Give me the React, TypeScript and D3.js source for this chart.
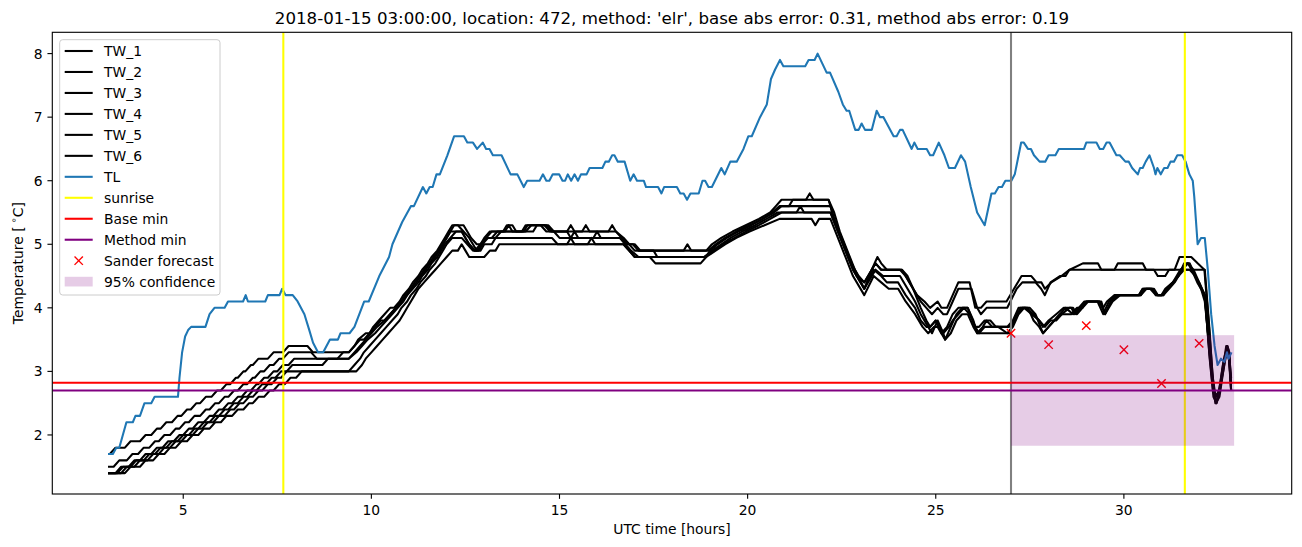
import React from 'react';
import * as d3 from 'd3';

const W = 1302;
const H = 547;
const PLOT = { left: 52.3, right: 1291.7, top: 32.3, bottom: 494 };

const X_DOMAIN = [1.52, 34.46];
const Y_DOMAIN = [1.071, 8.335];
const X_TICKS = [5, 10, 15, 20, 25, 30];
const Y_TICKS = [2, 3, 4, 5, 6, 7, 8];

const TITLE = "2018-01-15 03:00:00, location: 472, method: 'elr', base abs error: 0.31, method abs error: 0.19";
const X_LABEL = 'UTC time [hours]';

// Air temperature
const TL: [number, number][] = [
  [3.0,1.7],[3.13,1.7],[3.22,1.8],[3.3,1.8],[3.49,2.2],[3.66,2.2],[3.73,2.3],[3.85,2.3],[3.97,2.5],[4.15,2.5],[4.24,2.6],[4.86,2.6],[4.9,2.9],[4.97,3.3],[5.05,3.55],[5.13,3.65],[5.21,3.7],[5.59,3.7],[5.7,3.9],[5.83,4.0],[6.1,4.0],[6.19,4.1],[6.59,4.1],[6.66,4.2],[6.72,4.1],[7.18,4.1],[7.25,4.2],[7.56,4.2],[7.63,4.3],[7.72,4.2],[7.91,4.2],[8.04,4.1],[8.22,3.9],[8.35,3.65],[8.45,3.45],[8.58,3.3],[8.72,3.3],[8.9,3.5],[9.11,3.5],[9.18,3.6],[9.42,3.6],[9.55,3.7],[9.68,3.9],[9.81,4.1],[9.93,4.1],[10.21,4.5],[10.47,4.8],[10.56,5.0],[10.82,5.35],[11.05,5.6],[11.13,5.6],[11.37,5.9],[11.46,5.8],[11.55,5.9],[11.63,5.9],[11.73,6.1],[11.82,6.1],[12.02,6.4],[12.2,6.7],[12.46,6.7],[12.55,6.6],[12.7,6.6],[12.81,6.5],[12.96,6.6],[13.05,6.5],[13.14,6.5],[13.23,6.4],[13.46,6.4],[13.7,6.1],[13.88,6.1],[14.05,5.9],[14.14,6.0],[14.47,6.0],[14.56,6.1],[14.65,6.0],[14.73,6.0],[14.82,6.1],[14.99,6.1],[15.08,6.0],[15.15,6.0],[15.22,6.1],[15.31,6.0],[15.4,6.1],[15.49,6.0],[15.57,6.1],[15.72,6.1],[15.8,6.2],[16.14,6.2],[16.22,6.3],[16.31,6.3],[16.4,6.4],[16.46,6.4],[16.55,6.3],[16.73,6.3],[16.88,6.0],[16.97,6.1],[17.06,6.0],[17.24,6.0],[17.3,5.9],[17.62,5.9],[17.71,5.8],[17.78,5.9],[18.12,5.9],[18.21,5.8],[18.3,5.8],[18.39,5.7],[18.48,5.8],[18.7,5.8],[18.8,6.0],[18.87,6.0],[18.96,5.9],[19.05,5.9],[19.3,6.2],[19.39,6.1],[19.54,6.3],[19.71,6.3],[19.89,6.5],[20.02,6.7],[20.11,6.7],[20.33,7.0],[20.51,7.2],[20.62,7.6],[20.73,7.75],[20.86,7.9],[20.95,7.8],[21.53,7.8],[21.62,7.9],[21.78,7.9],[21.86,8.0],[22.1,7.7],[22.19,7.7],[22.41,7.4],[22.53,7.2],[22.63,7.1],[22.7,7.1],[22.86,6.8],[22.95,6.8],[23.03,6.9],[23.12,6.8],[23.3,6.8],[23.43,7.1],[23.52,7.0],[23.61,7.0],[23.88,6.7],[23.96,6.7],[24.05,6.8],[24.12,6.8],[24.36,6.5],[24.43,6.6],[24.52,6.5],[24.76,6.5],[24.85,6.4],[24.93,6.4],[25.08,6.6],[25.23,6.4],[25.35,6.2],[25.51,6.2],[25.67,6.4],[25.78,6.3],[25.93,5.9],[26.1,5.5],[26.3,5.3],[26.48,5.8],[26.57,5.8],[26.67,5.9],[26.76,5.9],[26.85,6.0],[27.01,6.0],[27.1,6.1],[27.27,6.6],[27.34,6.6],[27.45,6.5],[27.53,6.5],[27.61,6.4],[27.76,6.3],[27.91,6.3],[28.0,6.4],[28.18,6.4],[28.27,6.5],[28.94,6.5],[29.0,6.6],[29.27,6.6],[29.36,6.5],[29.45,6.5],[29.54,6.6],[29.62,6.6],[29.8,6.4],[29.89,6.4],[30.04,6.3],[30.13,6.3],[30.22,6.2],[30.37,6.1],[30.43,6.2],[30.5,6.2],[30.58,6.3],[30.68,6.4],[30.8,6.2],[30.84,6.1],[30.89,6.2],[30.98,6.1],[31.07,6.2],[31.16,6.2],[31.24,6.3],[31.33,6.3],[31.42,6.4],[31.55,6.4],[31.64,6.3],[31.74,6.1],[31.83,6.0],[31.87,5.75],[31.96,5.0],[32.05,5.1],[32.15,5.1],[32.23,4.6],[32.32,3.9],[32.41,3.4],[32.49,3.1],[32.58,3.2],[32.67,3.15],[32.74,3.3],[32.78,3.2],[32.86,3.3]
];

const TW_1: [number, number][] = [
  [3.0,1.7],[3.05,1.7],[3.2,1.8],[3.45,1.8],[3.6,1.9],[3.85,1.9],[4.0,2.0],[4.15,2.0],[4.3,2.1],[4.4,2.1],[4.55,2.2],[4.7,2.2],[4.85,2.3],[4.95,2.3],[5.1,2.4],[5.2,2.4],[5.35,2.5],[5.45,2.5],[5.6,2.6],[5.75,2.6],[5.9,2.7],[6.0,2.7],[6.15,2.8],[6.25,2.8],[6.4,2.9],[6.45,2.9],[6.6,3.0],[6.65,3.0],[6.8,3.1],[6.85,3.1],[7.0,3.2],[7.25,3.2],[7.4,3.3],[7.65,3.3],[7.8,3.4],
  [8.3,3.4],[8.45,3.3],[9.4,3.3],[9.55,3.4],[9.7,3.5],[9.8,3.5],[9.95,3.6],[10.1,3.7],[10.25,3.8],[10.35,3.8],[10.5,3.9],[10.65,4.0],[10.8,4.1],[10.95,4.2],[11.05,4.3],[11.2,4.4],[11.3,4.5],[11.45,4.6],[11.55,4.7],[11.7,4.8],[11.8,4.9],[11.9,5.0],[12.0,5.1],[12.1,5.2],[12.2,5.3],[12.45,5.3],[12.55,5.2],[12.65,5.1],[12.8,5.0],[12.9,5.0],[13.0,5.1],[13.15,5.2],[13.5,5.2],[13.6,5.3],[13.75,5.3],[13.85,5.2],[14.05,5.2],[14.15,5.3],[14.6,5.3],[14.75,5.2],[15.2,5.2],[15.3,5.3],[15.4,5.2],[16.5,5.2],[16.65,5.1],[16.8,5.0],[16.95,5.0],[17.1,4.9],[18.9,4.9],[19.05,5.0],[19.3,5.1],[19.6,5.2],[19.95,5.3],[20.3,5.4],[20.6,5.5],[20.75,5.6],[20.9,5.7],[21.55,5.7],[21.65,5.8],[21.75,5.7],[22.15,5.7],[22.3,5.5],[22.45,5.2],[22.65,4.9],[22.85,4.6],[23.1,4.3],[23.3,4.6],[23.45,4.8],[23.55,4.7],[23.7,4.6],[24.1,4.6],[24.3,4.4],[24.5,4.2],[24.7,4.1],[24.85,4.0],[25.05,4.1],[25.15,4.0],[25.3,4.0],[25.45,4.2],[25.6,4.4],[25.9,4.4],[26.05,4.0],[26.2,4.0],[26.35,4.1],[26.88,4.1],[27.28,4.5],[27.54,4.5],[27.68,4.4],[27.81,4.4],[27.9,4.3],[28.07,4.4],[28.34,4.5],[28.56,4.6],[28.91,4.7],[29.31,4.7],[29.4,4.6],[29.75,4.6],[29.84,4.7],[30.5,4.7],[30.59,4.6],[31.35,4.6],[31.48,4.8],[31.79,4.8],[31.96,4.7],[32.14,4.6],[32.25,3.8],[32.35,3.0],[32.43,2.5],[32.52,2.6],[32.62,3.0],[32.72,3.4],[32.78,3.3],[32.85,2.7]
];

const TW_2: [number, number][] = [
  [3.0,1.5],[3.15,1.5],[3.3,1.6],[3.5,1.6],[3.65,1.7],[3.8,1.7],[3.95,1.8],[4.1,1.8],[4.25,1.9],[4.35,1.9],[4.5,2.0],[4.65,2.0],[4.8,2.1],[4.9,2.1],[5.05,2.2],[5.15,2.2],[5.3,2.3],[5.45,2.3],[5.6,2.4],[5.7,2.4],[5.85,2.5],[5.95,2.5],[6.1,2.6],[6.2,2.6],[6.35,2.7],[6.45,2.7],[6.6,2.8],[6.7,2.8],[6.85,2.9],[6.9,2.9],[7.05,3.0],[7.15,3.0],[7.3,3.1],[7.4,3.1],[7.55,3.2],[7.65,3.2],[7.8,3.3],
  [8.4,3.3],[8.55,3.2],[9.1,3.2],[9.25,3.3],[9.4,3.3],[9.55,3.4],[9.65,3.5],[9.85,3.6],[9.95,3.6],[10.05,3.7],[10.2,3.8],[10.35,3.9],[10.5,4.0],[10.6,4.0],[10.75,4.1],[10.85,4.2],[11.0,4.3],[11.1,4.4],[11.25,4.5],[11.35,4.6],[11.5,4.7],[11.6,4.8],[11.75,4.9],[11.85,5.0],[11.95,5.1],[12.05,5.2],[12.15,5.3],[12.3,5.3],[12.45,5.2],[12.6,5.1],[12.7,5.0],[12.8,4.9],[12.95,5.0],[13.05,5.1],[13.2,5.1],[13.35,5.2],[14.1,5.2],[14.25,5.3],[14.65,5.3],[14.8,5.2],[15.6,5.2],[15.7,5.3],[15.8,5.2],[16.3,5.2],[16.4,5.3],[16.5,5.2],[16.7,5.1],[16.85,5.0],[17.0,4.9],[18.3,4.9],[18.4,5.0],[18.5,4.9],[18.95,4.9],[19.15,5.0],[19.4,5.1],[19.7,5.2],[20.05,5.3],[20.4,5.4],[20.65,5.5],[20.85,5.6],[21.1,5.6],[21.2,5.7],[22.15,5.7],[22.3,5.4],[22.5,5.1],[22.7,4.8],[22.9,4.5],[23.1,4.4],[23.4,4.7],[23.55,4.6],[24.1,4.6],[24.25,4.5],[24.4,4.3],[24.6,4.1],[24.75,4.0],[24.9,3.9],[25.05,4.0],[25.2,3.9],[25.3,3.9],[25.45,4.1],[25.6,4.3],[25.95,4.3],[26.1,4.0],[26.2,3.9],[26.35,4.0],[26.9,4.0],[27.15,4.3],[27.3,4.4],[27.65,4.4],[27.8,4.3],[27.9,4.2],[28.05,4.4],[28.3,4.5],[28.45,4.5],[28.55,4.6],[30.8,4.6],[30.9,4.5],[31.1,4.5],[31.2,4.6],[32.15,4.6],[32.27,3.7],[32.36,2.9],[32.44,2.6],[32.53,2.7],[32.63,3.1],[32.73,3.3],[32.79,3.2],[32.85,2.8]
];

const TW_3: [number, number][] = [
  [3.0,1.4],[3.2,1.4],[3.35,1.5],[3.55,1.5],[3.7,1.6],[3.85,1.6],[4.0,1.7],[4.15,1.7],[4.3,1.8],[4.45,1.8],[4.6,1.9],[4.75,1.9],[4.9,2.0],[5.0,2.0],[5.15,2.1],[5.25,2.1],[5.4,2.2],[5.55,2.2],[5.7,2.3],[5.8,2.3],[5.95,2.4],[6.05,2.4],[6.2,2.5],[6.3,2.5],[6.45,2.6],[6.55,2.6],[6.7,2.7],[6.8,2.7],[6.95,2.8],[7.0,2.8],[7.15,2.9],[7.25,2.9],[7.4,3.0],[7.5,3.0],[7.65,3.1],[7.8,3.1],[7.95,3.2],
  [9.4,3.2],[9.55,3.3],[9.7,3.4],[9.85,3.5],[10.0,3.6],[10.15,3.7],[10.35,3.8],[10.5,3.9],[10.65,4.0],[10.8,4.1],[10.9,4.2],[11.05,4.3],[11.15,4.4],[11.3,4.5],[11.4,4.6],[11.55,4.7],[11.65,4.8],[11.8,4.9],[11.9,5.0],[12.0,5.1],[12.1,5.2],[12.4,5.2],[12.5,5.1],[12.6,5.0],[12.75,4.9],[12.9,5.0],[13.05,5.1],[13.2,5.2],[13.55,5.2],[13.65,5.3],[13.75,5.2],[14.3,5.2],[14.4,5.3],[14.7,5.3],[14.85,5.2],[15.0,5.1],[15.9,5.1],[16.0,5.2],[16.1,5.1],[16.6,5.1],[16.75,5.0],[16.9,4.9],[17.1,4.8],[18.9,4.8],[19.0,4.9],[19.2,5.0],[19.45,5.1],[19.75,5.2],[20.1,5.3],[20.4,5.4],[20.7,5.5],[20.9,5.6],[22.2,5.6],[22.35,5.3],[22.55,5.0],[22.75,4.7],[22.95,4.5],[23.1,4.4],[23.4,4.7],[23.55,4.6],[24.05,4.6],[24.2,4.5],[24.4,4.3],[24.6,4.0],[24.75,3.8],[24.85,3.7],[25.0,3.8],[25.15,3.6],[25.3,3.7],[25.45,3.9],[25.6,4.0],[25.85,4.0],[26.05,3.7],[26.15,3.7],[26.3,3.8],[26.45,3.8],[26.6,3.7],[26.9,3.7],[27.05,3.8],[27.2,4.0],[27.35,4.0],[27.55,3.9],[27.75,3.8],[27.85,3.7],[28.0,3.8],[28.2,3.9],[28.4,4.0],[28.6,4.0],[28.7,3.9],[28.85,4.0],[29.0,4.1],[29.35,4.1],[29.45,4.0],[29.55,4.1],[29.75,4.2],[30.45,4.2],[30.55,4.3],[30.8,4.3],[30.9,4.2],[31.05,4.2],[31.15,4.3],[31.3,4.4],[31.45,4.5],[31.6,4.7],[31.75,4.7],[31.9,4.5],[32.05,4.3],[32.15,4.1],[32.27,3.4],[32.37,2.8],[32.45,2.5],[32.54,2.6],[32.64,3.0],[32.74,3.4],[32.8,3.2],[32.85,2.7]
];

const TW_4: [number, number][] = [
  [3.0,1.4],[3.25,1.4],[3.4,1.5],[3.6,1.5],[3.75,1.6],[3.95,1.6],[4.1,1.7],[4.25,1.7],[4.4,1.8],[4.55,1.8],[4.7,1.9],[4.85,1.9],[5.0,2.0],[5.15,2.0],[5.3,2.1],[5.4,2.1],[5.55,2.2],[5.7,2.2],[5.85,2.3],[5.95,2.3],[6.1,2.4],[6.2,2.4],[6.35,2.5],[6.45,2.5],[6.6,2.6],[6.7,2.6],[6.85,2.7],[6.95,2.7],[7.1,2.8],[7.2,2.8],[7.35,2.9],[7.45,2.9],[7.6,3.0],[7.75,3.0],[7.9,3.1],
  [8.7,3.1],[8.85,3.2],[9.4,3.2],[9.6,3.3],[9.75,3.4],[9.9,3.5],[10.1,3.6],[10.25,3.7],[10.4,3.8],[10.55,3.9],[10.7,4.0],[10.85,4.1],[10.95,4.2],[11.1,4.3],[11.25,4.4],[11.35,4.5],[11.5,4.6],[11.6,4.7],[11.75,4.8],[11.85,4.9],[11.95,5.0],[12.1,5.1],[12.25,5.2],[12.4,5.2],[12.6,5.0],[12.75,4.9],[12.85,4.9],[12.95,5.0],[13.1,5.1],[13.3,5.1],[13.45,5.2],[14.0,5.2],[14.1,5.3],[14.5,5.3],[14.65,5.2],[15.2,5.2],[15.3,5.1],[15.4,5.2],[15.5,5.1],[16.7,5.1],[16.85,5.0],[17.0,5.0],[17.15,4.9],[17.5,4.9],[17.6,4.8],[18.85,4.8],[19.05,4.9],[19.3,5.0],[19.55,5.1],[19.85,5.2],[20.2,5.3],[20.5,5.4],[20.8,5.5],[21.3,5.5],[21.4,5.6],[21.5,5.5],[22.2,5.5],[22.4,5.2],[22.6,4.9],[22.8,4.6],[23.1,4.3],[23.4,4.6],[23.6,4.5],[24.05,4.5],[24.25,4.3],[24.45,4.1],[24.6,3.9],[24.8,3.7],[24.9,3.6],[25.05,3.8],[25.2,3.6],[25.25,3.5],[25.4,3.7],[25.55,3.9],[25.7,4.0],[25.85,4.0],[26.0,3.8],[26.1,3.6],[26.25,3.7],[26.35,3.8],[26.5,3.7],[26.66,3.7],[26.9,3.6],[27.05,3.7],[27.2,3.9],[27.35,4.0],[27.5,4.0],[27.65,3.9],[27.85,3.6],[28.0,3.7],[28.15,3.8],[28.3,3.9],[28.6,3.9],[28.75,4.0],[28.9,4.0],[29.05,4.1],[29.35,4.1],[29.5,3.9],[29.65,4.1],[29.85,4.2],[30.4,4.2],[30.5,4.3],[30.75,4.3],[30.85,4.2],[31.0,4.2],[31.1,4.3],[31.3,4.4],[31.5,4.6],[31.7,4.7],[31.8,4.6],[31.95,4.4],[32.15,4.2],[32.28,3.3],[32.38,2.7],[32.46,2.5],[32.55,2.7],[32.65,3.1],[32.75,3.4],[32.8,3.3],[32.85,2.8]
];

const TW_5: [number, number][] = [
  [3.0,1.4],[3.35,1.4],[3.5,1.5],[3.7,1.5],[3.85,1.6],[4.05,1.6],[4.2,1.7],[4.35,1.7],[4.5,1.8],[4.65,1.8],[4.8,1.9],[4.95,1.9],[5.1,2.0],[5.25,2.0],[5.4,2.1],[5.5,2.1],[5.65,2.2],[5.8,2.2],[5.95,2.3],[6.1,2.3],[6.25,2.4],[6.35,2.4],[6.5,2.5],[6.6,2.5],[6.75,2.6],[6.85,2.6],[7.0,2.7],[7.1,2.7],[7.25,2.8],[7.35,2.8],[7.5,2.9],[7.6,2.9],[7.75,3.0],
  [9.4,3.0],[9.55,3.1],[9.7,3.2],[9.8,3.3],[9.95,3.4],[10.1,3.5],[10.25,3.6],[10.4,3.7],[10.55,3.8],[10.7,3.9],[10.8,4.0],[10.95,4.1],[11.05,4.2],[11.2,4.3],[11.3,4.4],[11.45,4.5],[11.55,4.6],[11.7,4.7],[11.8,4.8],[11.9,4.9],[12.0,5.0],[12.15,5.1],[12.4,5.1],[12.55,5.0],[12.7,4.9],[12.9,4.9],[13.0,5.0],[13.2,5.0],[13.3,5.1],[14.8,5.1],[14.95,5.0],[15.2,5.0],[15.3,5.1],[15.4,5.0],[15.75,5.0],[15.85,5.1],[15.95,5.0],[16.7,5.0],[16.85,4.9],[17.0,4.8],[18.85,4.8],[19.1,4.9],[19.35,5.0],[19.65,5.1],[19.95,5.2],[20.3,5.3],[20.6,5.4],[20.9,5.5],[22.2,5.5],[22.4,5.2],[22.6,4.9],[22.8,4.6],[23.1,4.3],[23.35,4.6],[23.55,4.5],[23.7,4.4],[24.0,4.4],[24.2,4.2],[24.45,4.0],[24.6,3.8],[24.75,3.7],[24.85,3.7],[25.0,3.8],[25.2,3.6],[25.35,3.7],[25.45,3.8],[25.6,3.9],[25.75,4.0],[25.9,3.9],[26.05,3.7],[26.15,3.6],[26.3,3.7],[26.95,3.7],[27.1,3.8],[27.25,4.0],[27.4,4.0],[27.6,3.9],[27.75,3.8],[27.9,3.7],[28.05,3.8],[28.2,3.8],[28.35,3.9],[28.55,4.0],[28.65,4.0],[28.75,3.9],[28.9,4.0],[29.0,4.1],[29.4,4.1],[29.5,3.9],[29.6,4.0],[29.7,4.1],[29.9,4.2],[30.45,4.2],[30.6,4.3],[30.75,4.3],[30.9,4.2],[31.05,4.2],[31.2,4.3],[31.35,4.4],[31.55,4.6],[31.7,4.7],[31.85,4.6],[32.0,4.4],[32.15,4.2],[32.27,3.3],[32.37,2.7],[32.45,2.6],[32.54,2.7],[32.64,3.0],[32.73,3.3],[32.79,3.3],[32.85,2.9]
];

const TW_6: [number, number][] = [
  [3.0,1.4],[3.45,1.4],[3.6,1.5],[3.85,1.5],[4.0,1.6],[4.2,1.6],[4.35,1.7],[4.5,1.7],[4.65,1.8],[4.8,1.8],[4.95,1.9],[5.1,1.9],[5.25,2.0],[5.4,2.0],[5.55,2.1],[5.7,2.1],[5.85,2.2],[6.0,2.2],[6.15,2.3],[6.3,2.3],[6.45,2.4],[6.6,2.4],[6.75,2.5],[6.85,2.5],[7.0,2.6],[7.15,2.6],[7.3,2.7],[7.4,2.7],[7.55,2.8],[7.7,2.8],[7.85,2.9],[8.0,2.9],[8.15,3.0],
  [9.6,3.0],[9.75,3.1],[9.85,3.2],[10.0,3.3],[10.15,3.4],[10.3,3.5],[10.45,3.6],[10.6,3.7],[10.75,3.8],[10.85,3.9],[10.95,4.0],[11.05,4.1],[11.15,4.2],[11.25,4.3],[11.4,4.4],[11.55,4.5],[11.7,4.6],[11.85,4.7],[12.0,4.8],[12.15,4.9],[12.3,4.9],[12.4,5.0],[12.5,4.9],[12.6,4.8],[13.0,4.8],[13.15,4.9],[13.3,4.9],[13.4,5.0],[16.7,5.0],[16.85,4.9],[17.0,4.8],[17.4,4.8],[17.55,4.7],[18.75,4.7],[18.9,4.8],[19.15,4.9],[19.4,5.0],[19.7,5.1],[20.05,5.2],[20.45,5.3],[20.85,5.4],[21.7,5.4],[21.8,5.3],[21.9,5.4],[22.2,5.4],[22.4,5.1],[22.6,4.8],[22.8,4.5],[23.1,4.2],[23.35,4.5],[23.55,4.4],[23.75,4.3],[24.0,4.3],[24.2,4.1],[24.45,3.9],[24.65,3.7],[24.8,3.6],[24.95,3.7],[25.05,3.7],[25.25,3.5],[25.4,3.6],[25.55,3.8],[25.7,3.9],[25.85,3.9],[26.0,3.7],[26.1,3.6],[26.95,3.6],[27.15,3.9],[27.3,4.0],[27.45,4.0],[27.6,3.8],[27.75,3.7],[27.85,3.6],[28.0,3.7],[28.15,3.8],[28.3,3.9],[28.45,4.0],[28.65,3.9],[28.8,4.0],[28.95,4.1],[29.3,4.1],[29.45,3.9],[29.6,4.1],[29.8,4.2],[30.4,4.2],[30.5,4.3],[30.7,4.3],[30.85,4.2],[31.0,4.2],[31.15,4.3],[31.3,4.4],[31.45,4.5],[31.6,4.6],[31.75,4.6],[31.9,4.5],[32.0,4.4],[32.15,4.2],[32.28,3.2],[32.38,2.6],[32.46,2.5],[32.56,2.8],[32.66,3.2],[32.75,3.4],[32.8,3.3],[32.85,2.7]
];

const TW_SERIES = [TW_1, TW_2, TW_3, TW_4, TW_5, TW_6];

const SUNRISE_HOURS = [7.66, 31.62];
const FORECAST_START = 27;
const BASE_MIN = 2.82;
const METHOD_MIN = 2.70;
const SANDER_HOURS = [27, 28, 29, 30, 31, 32];
const SANDER_VALUES = [3.60, 3.42, 3.72, 3.34, 2.81, 3.44];
const CONF_HOURS = [27, 32.93];
const CONF_LOW = 1.83;
const CONF_HIGH = 3.57;

const LEGEND_LABELS = ['TW_1', 'TW_2', 'TW_3', 'TW_4', 'TW_5', 'TW_6', 'TL', 'sunrise', 'Base min', 'Method min', 'Sander forecast', '95% confidence'];
const LEGEND_KINDS = ['line', 'line', 'line', 'line', 'line', 'line', 'line', 'line', 'line', 'line', 'marker', 'patch'];
const LEGEND_COLORS = ['#000000', '#000000', '#000000', '#000000', '#000000', '#000000', '#1f77b4', '#ffff00', '#ff0000', '#800080', '#ff0000', '#800080'];

const FONT = "'DejaVu Sans', sans-serif";
const FS = 13.89;

export default function App() {
  const x = d3.scaleLinear().domain(X_DOMAIN).range([PLOT.left, PLOT.right]);
  const y = d3.scaleLinear().domain(Y_DOMAIN).range([PLOT.bottom, PLOT.top]);
  const line = d3.line<[number, number]>().x(d => x(d[0])).y(d => y(d[1]));
  const lw = 2.08;
  const mk = 4.17;

  const legendX = 59.7, legendY = 39.7, legendW = 160.3, legendH = 255.3;
  const rowY = (i: number) => 51 + i * 20.97;

  return (
    <svg width={W} height={H} viewBox={`0 0 ${W} ${H}`} style={{ position: 'absolute', left: 0, top: 0, background: '#fff' }} fontFamily={FONT}>
      <rect x={0} y={0} width={W} height={H} fill="#fff" />
      <defs>
        <clipPath id="plotclip">
          <rect x={PLOT.left} y={PLOT.top} width={PLOT.right - PLOT.left} height={PLOT.bottom - PLOT.top} />
        </clipPath>
      </defs>
      <g clipPath="url(#plotclip)">
        {TW_SERIES.map((s, i) => (
          <path key={'tw' + i} d={line(s) || ''} fill="none" stroke="#000" strokeWidth={lw} strokeLinejoin="round" />
        ))}
        <path d={line(TL) || ''} fill="none" stroke="#1f77b4" strokeWidth={lw} strokeLinejoin="round" />
        {SUNRISE_HOURS.map((h, i) => (
          <line key={'sr' + i} x1={x(h)} x2={x(h)} y1={PLOT.top} y2={PLOT.bottom} stroke="#ffff00" strokeWidth={lw} />
        ))}
        <line x1={x(FORECAST_START)} x2={x(FORECAST_START)} y1={PLOT.top} y2={PLOT.bottom} stroke="#808080" strokeWidth={lw} />
        <line x1={PLOT.left} x2={PLOT.right} y1={y(BASE_MIN)} y2={y(BASE_MIN)} stroke="#ff0000" strokeWidth={lw} />
        <line x1={PLOT.left} x2={PLOT.right} y1={y(METHOD_MIN)} y2={y(METHOD_MIN)} stroke="#800080" strokeWidth={lw} />
        {SANDER_HOURS.map((h, i) => {
          const cx = x(h), cy = y(SANDER_VALUES[i]);
          return (
            <g key={'sf' + i} stroke="#ff0000" strokeWidth={1.39}>
              <line x1={cx - mk} y1={cy - mk} x2={cx + mk} y2={cy + mk} />
              <line x1={cx - mk} y1={cy + mk} x2={cx + mk} y2={cy - mk} />
            </g>
          );
        })}
        <rect x={x(CONF_HOURS[0])} y={y(CONF_HIGH)} width={x(CONF_HOURS[1]) - x(CONF_HOURS[0])} height={y(CONF_LOW) - y(CONF_HIGH)} fill="#800080" fillOpacity={0.2} />
      </g>

      {/* axes frame */}
      <rect x={PLOT.left} y={PLOT.top} width={PLOT.right - PLOT.left} height={PLOT.bottom - PLOT.top} fill="none" stroke="#000" strokeWidth={1.11} />

      {X_TICKS.map(t => (
        <g key={'xt' + t}>
          <line x1={x(t)} x2={x(t)} y1={PLOT.bottom} y2={PLOT.bottom + 4.86} stroke="#000" strokeWidth={1.11} />
          <text x={x(t)} y={515} textAnchor="middle" fontSize={FS} fill="#000">{t}</text>
        </g>
      ))}
      {Y_TICKS.map(t => (
        <g key={'yt' + t}>
          <line x1={PLOT.left - 4.86} x2={PLOT.left} y1={y(t)} y2={y(t)} stroke="#000" strokeWidth={1.11} />
          <text x={PLOT.left - 9.7} y={y(t) + 5.05} textAnchor="end" fontSize={FS} fill="#000">{t}</text>
        </g>
      ))}

      <text x={(PLOT.left + PLOT.right) / 2} y={534} textAnchor="middle" fontSize={FS} fill="#000">{X_LABEL}</text>
      <text transform={`translate(22.5, ${(PLOT.top + PLOT.bottom) / 2}) rotate(-90)`} textAnchor="middle" fontSize={FS} fill="#000">
        Temperature [<tspan fontSize={9.7} dy={-5.5}> ∘</tspan><tspan dy={5.5}>C]</tspan>
      </text>
      <text x={(PLOT.left + PLOT.right) / 2} y={24} textAnchor="middle" fontSize={16.67} fill="#000">{TITLE}</text>

      {/* legend */}
      <rect x={legendX} y={legendY} width={legendW} height={legendH} rx={3} ry={3} fill="#fff" fillOpacity={0.8} stroke="#cccccc" strokeWidth={1} />
      {LEGEND_LABELS.map((lab, i) => {
        const cy = rowY(i);
        const kind = LEGEND_KINDS[i];
        const col = LEGEND_COLORS[i];
        return (
          <g key={'lg' + i}>
            {kind === 'line' && <line x1={64.7} x2={92.7} y1={cy} y2={cy} stroke={col} strokeWidth={lw} />}
            {kind === 'marker' && (
              <g stroke={col} strokeWidth={1.39}>
                <line x1={78.7 - mk} y1={cy - mk} x2={78.7 + mk} y2={cy + mk} />
                <line x1={78.7 - mk} y1={cy + mk} x2={78.7 + mk} y2={cy - mk} />
              </g>
            )}
            {kind === 'patch' && <rect x={64.7} y={cy - 4.9} width={28} height={9.7} fill={col} fillOpacity={0.2} />}
            <text x={104} y={cy + 5} fontSize={FS} fill="#000">{lab}</text>
          </g>
        );
      })}
    </svg>
  );
}
